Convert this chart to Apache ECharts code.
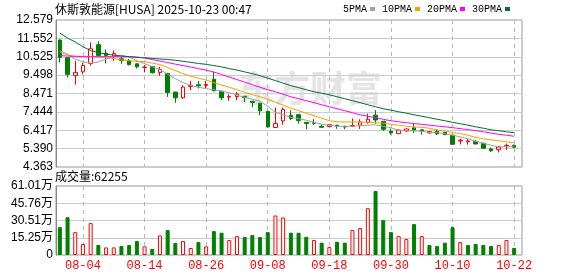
<!DOCTYPE html>
<html><head><meta charset="utf-8">
<script src="https://cdn.jsdelivr.net/npm/echarts@6/dist/echarts.min.js"></script>
<style>html,body{margin:0;padding:0;background:#fff}#c{width:578px;height:276px}</style>
</head><body><div id="c"></div>
<script>
const dates=['07-30','07-31','08-01','08-04','08-05','08-06','08-07','08-08','08-11','08-12','08-13','08-14','08-15','08-18','08-19','08-20','08-21','08-22','08-25','08-26','08-27','08-28','08-29','09-02','09-03','09-04','09-05','09-08','09-09','09-10','09-11','09-12','09-15','09-16','09-17','09-18','09-19','09-22','09-23','09-24','09-25','09-26','09-29','09-30','10-01','10-02','10-03','10-06','10-07','10-08','10-09','10-10','10-13','10-14','10-15','10-16','10-17','10-20','10-21','10-22'];
const xTickLabels=['08-04','08-14','08-26','09-08','09-18','09-30','10-10','10-22'];
const priceTicks=['4.363','5.390','6.417','7.444','8.471','9.498','10.525','11.552','12.579'];
const volTicks=['0','15.25万','30.51万','45.76万','61.01万'];
const open=[11.46,10.47,9.48,9.68,10.15,11.20,10.73,10.56,10.41,10.30,10.13,9.93,9.98,9.65,9.59,8.55,8.23,8.86,8.96,8.92,9.27,8.60,8.27,8.30,8.32,8.04,7.93,7.48,6.57,6.94,7.26,7.29,6.86,6.85,6.64,6.62,6.70,6.64,6.64,6.70,6.86,7.26,6.92,6.36,6.23,6.38,6.55,6.44,6.27,6.36,6.29,6.14,5.82,5.78,5.78,5.69,5.37,5.33,5.54,5.58];
const close=[10.49,9.54,9.65,10.04,10.97,10.60,10.60,10.71,10.32,10.08,9.96,9.95,9.63,9.82,8.53,8.23,8.83,8.92,8.90,8.97,8.62,8.23,8.30,8.43,8.25,7.97,7.50,6.60,6.79,7.57,7.07,6.96,6.79,6.81,6.58,6.73,6.65,6.60,6.68,6.88,7.03,6.99,6.47,6.27,6.42,6.49,6.42,6.38,6.34,6.21,6.17,5.63,5.86,5.82,5.65,5.41,5.28,5.48,5.56,5.46];
const low=[10.21,9.37,8.97,9.54,10.02,10.58,10.15,10.30,10.13,10.04,9.87,9.65,9.59,9.46,8.28,7.95,8.17,8.66,8.75,8.75,8.60,8.10,8.06,8.10,8.00,7.69,7.26,6.58,6.55,6.73,6.98,6.79,6.47,6.71,6.56,6.60,6.50,6.47,6.64,6.49,6.79,6.79,6.38,6.17,6.22,6.33,6.27,6.17,6.23,6.15,6.15,5.59,5.63,5.61,5.63,5.37,5.20,5.18,5.33,5.43];
const high=[11.49,10.47,10.30,10.19,11.33,11.40,10.94,10.88,10.52,10.41,10.15,10.06,10.00,9.96,9.63,8.56,8.94,9.18,9.16,9.16,9.68,8.60,8.43,8.56,8.33,8.04,7.93,7.48,7.69,7.69,7.54,7.29,6.86,7.03,6.75,6.73,6.72,6.64,7.07,7.03,7.35,7.54,6.92,6.51,6.45,6.51,6.79,6.47,6.38,6.45,6.31,6.14,5.95,5.91,5.86,5.69,5.45,5.54,5.67,5.61];
const ma5=[10.87,10.67,10.39,10.24,10.17,10.23,10.39,10.55,10.60,10.51,10.31,10.14,9.97,9.81,9.55,9.30,9.08,8.91,8.82,8.74,8.68,8.60,8.52,8.38,8.26,8.15,8.04,7.76,7.42,7.28,7.14,7.06,6.98,6.86,6.75,6.70,6.64,6.64,6.64,6.67,6.70,6.72,6.64,6.56,6.42,6.39,6.38,6.36,6.30,6.28,6.23,6.14,6.05,5.94,5.80,5.69,5.58,5.48,5.50,5.49];
const ma10=[10.79,10.62,10.55,10.55,10.53,10.52,10.49,10.42,10.35,10.31,10.26,10.26,10.17,10.09,9.92,9.75,9.58,9.44,9.33,9.22,9.08,8.94,8.82,8.68,8.54,8.40,8.29,8.15,7.98,7.82,7.65,7.51,7.37,7.23,7.09,6.95,6.89,6.88,6.88,6.88,6.86,6.84,6.81,6.75,6.70,6.64,6.60,6.58,6.53,6.44,6.36,6.30,6.22,6.14,6.02,5.94,5.88,5.83,5.77,5.72];
const ma20=[10.59,10.56,10.55,10.53,10.53,10.53,10.53,10.53,10.53,10.53,10.51,10.45,10.37,10.28,10.20,10.11,10.03,9.95,9.86,9.78,9.67,9.53,9.39,9.25,9.11,8.96,8.82,8.68,8.57,8.43,8.29,8.18,8.07,7.96,7.84,7.73,7.62,7.51,7.40,7.28,7.20,7.12,7.03,6.95,6.89,6.84,6.79,6.75,6.70,6.65,6.61,6.56,6.51,6.45,6.40,6.33,6.26,6.19,6.14,6.08];
const ma30=[11.85,11.57,11.35,11.09,10.87,10.76,10.67,10.62,10.57,10.53,10.49,10.47,10.43,10.40,10.37,10.33,10.27,10.21,10.15,10.10,10.03,9.96,9.86,9.78,9.68,9.58,9.47,9.33,9.19,9.05,8.91,8.80,8.68,8.57,8.49,8.40,8.29,8.18,8.07,7.96,7.84,7.73,7.62,7.54,7.45,7.37,7.28,7.20,7.12,7.03,6.95,6.86,6.78,6.70,6.61,6.53,6.44,6.39,6.33,6.28];
// volume in 万 shares
const volume=[24.6,33.4,20.2,9.7,28.2,8.8,6.7,6.7,7.9,8.8,12.3,7.6,5.3,17.3,22.0,10.6,12.3,6.2,11.4,7.6,21.1,19.7,13.2,16.7,15.8,17.6,15.8,20.2,34.9,33.1,19.7,19.7,16.1,13.2,10.9,7.0,11.7,10.9,22.0,23.8,41.4,56.6,30.8,20.2,16.7,14.1,27.3,16.7,8.8,7.9,10.9,24.6,11.4,8.8,9.7,8.8,7.9,8.8,13.2,6.2255];
const volUp=[0,0,1,1,1,0,1,1,0,0,0,1,0,1,0,0,1,1,0,1,0,0,1,1,0,0,0,0,1,1,0,0,0,1,0,1,0,0,1,1,1,0,0,0,1,1,0,1,0,0,0,0,1,0,0,0,0,1,1,0];

const PMIN=4.363, PMAX=12.579, VMAX=61.01;
const RED='#ff0000', GREEN='#008000';
const FONT='"Noto Sans CJK SC","Liberation Sans",sans-serif';
const isLab=(i)=>xTickLabels.indexOf(dates[i])>=0;
const candle=dates.map((d,i)=>[open[i],close[i],low[i],high[i]]);
const volData=volume.map((v,i)=>({value:v,itemStyle:volUp[i]?{color:'#ffffff',borderColor:RED,borderWidth:1}:{color:GREEN,borderColor:GREEN,borderWidth:1}}));

// layout of the data area
const PL=56, PW=462, slot=PW/dates.length;
const firstLab=dates.indexOf(xTickLabels[0]), lastLab=dates.indexOf(xTickLabels[xTickLabels.length-1]);
const labStep=dates.indexOf(xTickLabels[1])-firstLab;
// overlay grids spanning first..last labelled day, whose x split lines give the dashed verticals
const vgLeft=Math.round(PL+(firstLab+0.5)*slot), vgWidth=Math.round((lastLab-firstLab)*slot);

const chart=echarts.init(document.getElementById('c'),null,{renderer:'canvas'});
const vAxis=(gi)=>({type:'value',gridIndex:gi,min:0,max:lastLab-firstLab,interval:labStep,
  axisLine:{show:false},axisTick:{show:false},axisLabel:{show:false},
  splitLine:{show:true,lineStyle:{color:'#b8b8b8',width:1,type:[4,4]}}});
const option={
  animation:false,
  backgroundColor:'#ffffff',
  title:[
    {text:'休斯敦能源[HUSA] 2025-10-23 00:47',left:55,top:3,padding:0,textStyle:{fontSize:12,fontWeight:'normal',color:'#000',fontFamily:FONT}},
    {text:'成交量:'+Math.round(volume[volume.length-1]*10000),left:55,top:170,padding:0,textStyle:{fontSize:12,fontWeight:'normal',color:'#000',fontFamily:FONT}}
  ],
  legend:{top:4,right:68,padding:0,itemWidth:5,itemHeight:4,itemGap:7,align:'right',icon:'rect',
    textStyle:{fontSize:10,color:'#000',fontFamily:'"Liberation Mono",monospace',padding:[0,-2,0,0]},
    data:['5PMA','10PMA','20PMA','30PMA']},
  graphic:[{type:'text',left:238,top:70,z:0,silent:true,style:{text:'东方财富',font:'bold 36px "Noto Sans CJK SC"',fill:'#e4e4e4'}}],
  grid:[
    {left:PL,top:20,width:PW,height:147},
    {left:PL,top:186,width:PW,height:69},
    {left:PL,top:20,width:466,height:147,show:true,borderColor:'#999',borderWidth:1,backgroundColor:'rgba(0,0,0,0)'},
    {left:PL,top:186,width:466,height:69,show:true,borderColor:'#999',borderWidth:1,backgroundColor:'rgba(0,0,0,0)'},
    {left:vgLeft,top:20,width:vgWidth,height:147},
    {left:vgLeft,top:186,width:vgWidth,height:69}
  ],
  xAxis:[
    {type:'category',gridIndex:0,data:dates,boundaryGap:true,axisLine:{show:false},axisTick:{show:false},axisLabel:{show:false},splitLine:{show:false}},
    {type:'category',gridIndex:1,data:dates,boundaryGap:true,axisLine:{show:false},axisTick:{show:false},splitLine:{show:false},
      axisLabel:{show:true,interval:(i)=>isLab(i),color:RED,fontSize:12,margin:5,fontFamily:'"Liberation Mono","DejaVu Sans Mono",monospace'}},
    {type:'value',gridIndex:2,min:0,max:1,show:false},
    {type:'value',gridIndex:3,min:0,max:1,show:false},
    vAxis(4),
    vAxis(5)
  ],
  yAxis:[
    {type:'value',gridIndex:0,min:PMIN,max:PMAX,show:false},
    {type:'value',gridIndex:1,min:0,max:VMAX,show:false},
    {type:'value',gridIndex:2,min:0,max:8,interval:1,axisLine:{show:true,lineStyle:{color:'#888'}},axisTick:{show:false},
      splitLine:{show:true,lineStyle:{color:'#cccccc'}},
      axisLabel:{margin:3,fontSize:12,color:'#000',fontFamily:'"Liberation Sans",sans-serif',formatter:(v)=>priceTicks[v]}},
    {type:'value',gridIndex:3,min:0,max:4,interval:1,axisLine:{show:true,lineStyle:{color:'#888'}},axisTick:{show:false},
      splitLine:{show:true,lineStyle:{color:'#cccccc'}},
      axisLabel:{margin:3,fontSize:12,color:'#000',fontFamily:'"Liberation Sans","Noto Sans CJK SC",sans-serif',formatter:(v)=>volTicks[v]}},
    {type:'value',gridIndex:4,min:0,max:1,show:false},
    {type:'value',gridIndex:5,min:0,max:1,show:false}
  ],
  series:[
    {type:'candlestick',name:'K',xAxisIndex:0,yAxisIndex:0,data:candle,barWidth:4,z:2,
      itemStyle:{color:'#ffffff',color0:GREEN,borderColor:RED,borderColor0:GREEN,borderWidth:1}},
    {type:'line',name:'5PMA',xAxisIndex:0,yAxisIndex:0,data:ma5,symbol:'none',z:3,lineStyle:{width:1,color:'#a0a0a0'},itemStyle:{color:'#a0a0a0'}},
    {type:'line',name:'10PMA',xAxisIndex:0,yAxisIndex:0,data:ma10,symbol:'none',z:3,lineStyle:{width:1,color:'#f5a000'},itemStyle:{color:'#f5a000'}},
    {type:'line',name:'20PMA',xAxisIndex:0,yAxisIndex:0,data:ma20,symbol:'none',z:3,lineStyle:{width:1,color:'#ff00ff'},itemStyle:{color:'#ff00ff'}},
    {type:'line',name:'30PMA',xAxisIndex:0,yAxisIndex:0,data:ma30,symbol:'none',z:3,lineStyle:{width:1,color:'#006f35'},itemStyle:{color:'#006f35'}},
    {type:'bar',name:'VOL',xAxisIndex:1,yAxisIndex:1,data:volData,barWidth:4,z:2}
  ]
};
chart.setOption(option);
</script></body></html>
